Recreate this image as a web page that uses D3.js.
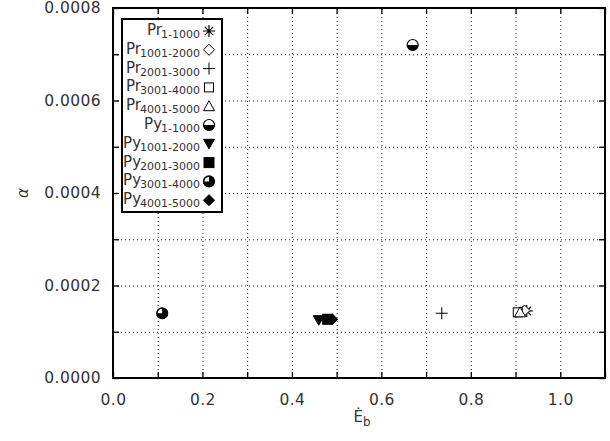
<!DOCTYPE html>
<html>
<head>
<meta charset="utf-8">
<script src="https://cdn.jsdelivr.net/npm/d3@7"></script>
<style>
  body { margin: 0; background: #fff; }
  text { font-family: "DejaVu Sans", sans-serif; fill: #333; }
</style>
</head>
<body>
<svg id="chart" width="610" height="441"></svg>
<script>
// data
var groups = ["Pr", "Pr", "Pr", "Pr", "Pr", "Py", "Py", "Py", "Py", "Py"];
var ranges = ["1-1000", "1001-2000", "2001-3000", "3001-4000", "4001-5000",
              "1-1000", "1001-2000", "2001-3000", "3001-4000", "4001-5000"];
var ebValues = [0.925, 0.92, 0.735, 0.905, 0.91, 0.67, 0.46, 0.48, 0.11, 0.49];
var alphaValues = [0.000145, 0.000146, 0.00014, 0.000142, 0.000142,
                   0.00072, 0.000125, 0.000127, 0.00014, 0.000127];
var markers = ["asterisk", "diamond", "plus", "square", "triangle",
               "halfCircle", "triangleDown", "squareFilled", "quarterCircle", "diamondFilled"];
var xTicks = [0, 0.1, 0.2, 0.3, 0.4, 0.5, 0.6, 0.7, 0.8, 0.9, 1.0, 1.1];
var xLabels = [0, 0.2, 0.4, 0.6, 0.8, 1.0];
var yTicks = [0, 0.0001, 0.0002, 0.0003, 0.0004, 0.0005, 0.0006, 0.0007, 0.0008];
var yLabels = [0, 0.0002, 0.0004, 0.0006, 0.0008];

var mLeft = 113, mRight = 605, mTop = 8, mBottom = 378;
var width = mRight - mLeft, height = mBottom - mTop;

var svg = d3.select('#chart');
var x = d3.scaleLinear().domain([0, 1.1]).range([0, width]);
var y = d3.scaleLinear().domain([0, 0.0008]).range([height, 0]);

var plot = svg.append('g').attr('transform', 'translate(' + mLeft + ',' + mTop + ')');

// dotted grid
plot.append('g')
    .attr('transform', 'translate(0,' + height + ')')
    .call(d3.axisBottom(x).tickValues(xTicks).tickSize(-height).tickFormat(''))
    .call(function(g) { g.select('.domain').remove(); })
    .selectAll('line').attr('stroke', '#222').attr('stroke-dasharray', '1,3').attr('class', 'grid');
plot.append('g')
    .call(d3.axisLeft(y).tickValues(yTicks).tickSize(-width).tickFormat(''))
    .call(function(g) { g.select('.domain').remove(); })
    .selectAll('line').attr('stroke', '#222').attr('stroke-dasharray', '1,3').attr('class', 'grid');

// inward ticks on all four sides
function tickFmt(list, f) {
  return function(d) { return list.some(function(v) { return Math.abs(v - d) < 1e-9; }) ? f(d) : ''; };
}
plot.append('g')
    .attr('transform', 'translate(0,' + height + ')')
    .call(d3.axisBottom(x).tickValues(xTicks).tickSizeInner(-6).tickSizeOuter(0).tickPadding(16)
      .tickFormat(tickFmt(xLabels, d3.format('.1f'))));
plot.append('g')
    .call(d3.axisLeft(y).tickValues(yTicks).tickSizeInner(-6).tickSizeOuter(0).tickPadding(12)
      .tickFormat(tickFmt(yLabels, d3.format('.4f'))));
plot.append('g')
    .call(d3.axisTop(x).tickValues(xTicks).tickSizeInner(-6).tickSizeOuter(0).tickFormat(''));
plot.append('g')
    .attr('transform', 'translate(' + width + ',0)')
    .call(d3.axisRight(y).tickValues(yTicks).tickSizeInner(-6).tickSizeOuter(0).tickFormat(''));

plot.selectAll('.tick line:not(.grid)')
    .attr('stroke', '#000').attr('stroke-width', 1.3);
plot.selectAll('.domain').remove();
plot.selectAll('.tick text').attr('font-size', 15.5).attr('fill', '#333')
    .attr('letter-spacing', 0.4)
    .attr('font-family', '"DejaVu Sans", sans-serif');

// frame
plot.append('rect')
    .attr('width', width).attr('height', height)
    .attr('fill', 'none').attr('stroke', '#000').attr('stroke-width', 2);

// marker drawing
function drawMarker(g, type) {
  var s = 5.5;
  if (type === 'asterisk') {
    var r = 6;
    g.append('path').attr('d', 'M' + (-r) + ',0H' + r + 'M0,' + (-r) + 'V' + r +
      'M' + (-r * 0.7) + ',' + (-r * 0.7) + 'L' + (r * 0.7) + ',' + (r * 0.7) +
      'M' + (-r * 0.7) + ',' + (r * 0.7) + 'L' + (r * 0.7) + ',' + (-r * 0.7))
      .attr('stroke', '#000').attr('stroke-width', 1.2);
  } else if (type === 'diamond' || type === 'diamondFilled') {
    g.append('path').attr('d', 'M0,' + (-s) + 'L' + s + ',0L0,' + s + 'L' + (-s) + ',0Z')
      .attr('fill', type === 'diamond' ? '#fff' : '#000').attr('stroke', '#000').attr('stroke-width', 1);
  } else if (type === 'plus') {
    var p = 6;
    g.append('path').attr('d', 'M' + (-p) + ',0H' + p + 'M0,' + (-p) + 'V' + p)
      .attr('stroke', '#000').attr('stroke-width', 1);
  } else if (type === 'square' || type === 'squareFilled') {
    var q = type === 'square' ? 4.5 : 5;
    g.append('rect').attr('x', -q).attr('y', -q).attr('width', 2 * q).attr('height', 2 * q)
      .attr('fill', type === 'square' ? '#fff' : '#000').attr('stroke', '#000').attr('stroke-width', 1);
  } else if (type === 'triangle') {
    g.append('path').attr('d', 'M0,-5.5L5.5,4.5L-5.5,4.5Z')
      .attr('fill', '#fff').attr('stroke', '#000').attr('stroke-width', 1);
  } else if (type === 'triangleDown') {
    g.append('path').attr('d', 'M0,5L5.5,-4.5L-5.5,-4.5Z')
      .attr('fill', '#000').attr('stroke', '#000').attr('stroke-width', 1);
  } else if (type === 'halfCircle') {
    g.append('circle').attr('r', s).attr('fill', '#fff').attr('stroke', '#000').attr('stroke-width', 1.2);
    g.append('path').attr('d', 'M' + (-s) + ',0A' + s + ',' + s + ' 0 0 0 ' + s + ',0Z').attr('fill', '#000');
  } else if (type === 'quarterCircle') {
    g.append('circle').attr('r', s).attr('fill', '#000').attr('stroke', '#000').attr('stroke-width', 1.2);
    g.append('path').attr('d', 'M0,0L' + (-s + 1) + ',0A' + (s - 1) + ',' + (s - 1) + ' 0 0 1 0,' + (-s + 1) + 'Z')
      .attr('fill', '#fff');
  }
}

// data points
var points = ebValues.map(function(v, i) { return { x: v, y: alphaValues[i], m: markers[i] }; });
plot.selectAll('g.point')
    .data(points)
    .enter()
    .append('g')
      .attr('class', 'point')
      .attr('transform', function(d) { return 'translate(' + x(d.x) + ',' + y(d.y) + ')'; })
      .each(function(d) { drawMarker(d3.select(this), d.m); });

// legend
var legX = 122, legY = 19, legW = 100, legH = 193, rowH = 18.8;
var legend = svg.append('g');
legend.append('rect')
    .attr('x', legX).attr('y', legY).attr('width', legW).attr('height', legH)
    .attr('fill', '#fff').attr('stroke', '#000').attr('stroke-width', 2);
var rows = legend.selectAll('g.row')
    .data(groups.map(function(gname, i) { return { g: gname, r: ranges[i], m: markers[i] }; }))
    .enter()
    .append('g')
      .attr('class', 'row')
      .attr('transform', function(d, i) { return 'translate(0,' + (legY + 12 + i * rowH) + ')'; });
var lt = rows.append('text')
    .attr('x', 200).attr('y', 4)
    .attr('text-anchor', 'end');
lt.append('tspan').attr('font-size', 15).text(function(d) { return d.g; });
lt.append('tspan').attr('font-size', 11).attr('dy', 3).attr('dx', -1).text(function(d) { return d.r; });
rows.append('g')
    .attr('transform', 'translate(209,0)')
    .each(function(d) { drawMarker(d3.select(this), d.m); });

// axis titles
var xt = svg.append('text')
    .attr('x', 362).attr('y', 422)
    .attr('text-anchor', 'middle').attr('font-size', 15);
xt.append('tspan').text('\u0116');
xt.append('tspan').attr('font-size', 12).attr('dy', 4).text('b');

svg.append('text')
    .attr('transform', 'translate(28,' + (mTop + y(0.0004)) + ') rotate(-90)')
    .attr('text-anchor', 'middle').attr('font-size', 15).attr('font-style', 'italic')
    .text('\u03b1');
</script>
</body>
</html>
